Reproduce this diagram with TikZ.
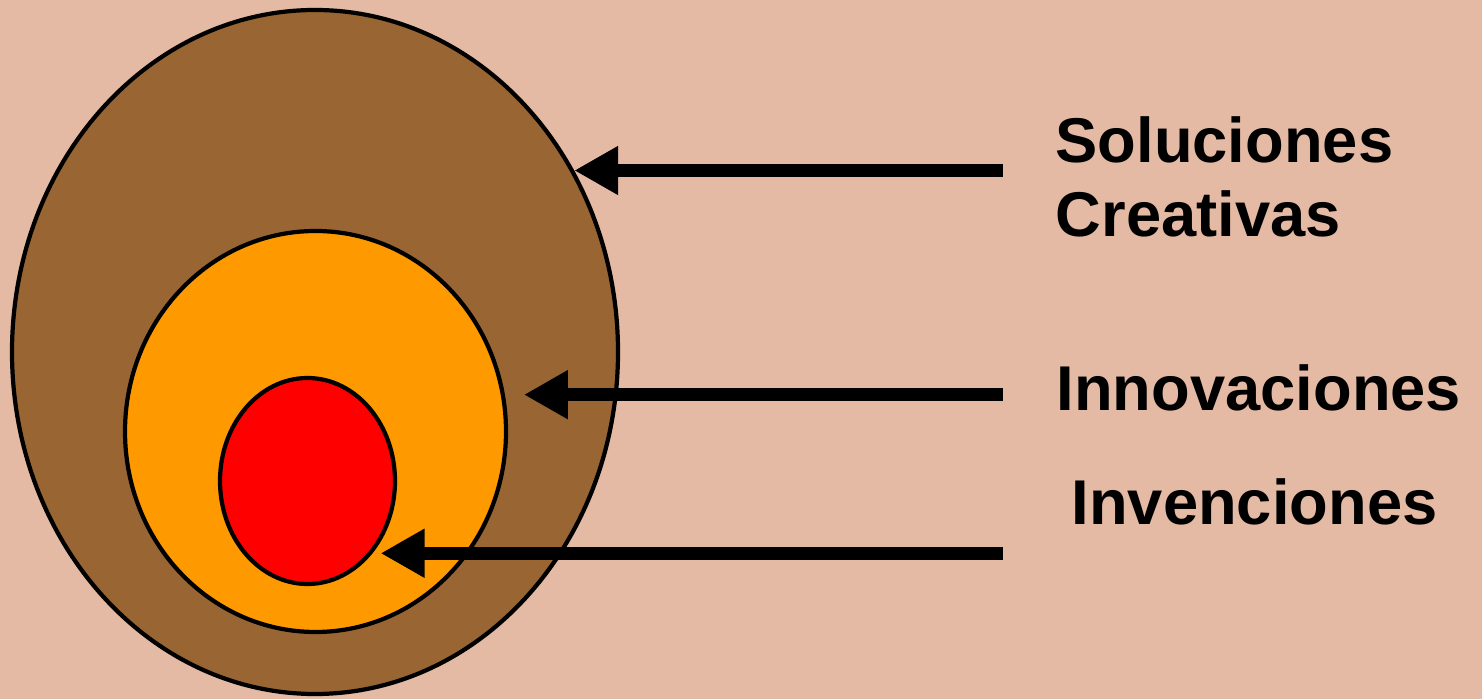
\documentclass[tikz,border=0pt]{standalone}
\usepackage{fontspec}
\setmainfont{Liberation Sans}
\usetikzlibrary{shapes.geometric,arrows.meta}
\definecolor{fondo}{HTML}{E4BAA4}
\definecolor{cafe}{HTML}{996633}
\definecolor{naranja}{HTML}{FF9900}
\definecolor{rojo}{HTML}{FF0000}
\begin{document}
\begin{tikzpicture}[
	capa/.style={ellipse,draw=black,line width=1.2pt,inner sep=0pt},
	flecha/.style={line width=0.13cm,-{Triangle[length=4.4mm,width=4.6mm]}},
	etiqueta/.style={anchor=base west,inner sep=0pt,font=\fontsize{18}{21.3}\selectfont\bfseries,align=left}
	]
	\fill[fondo] (0,0) rectangle (14.82,6.99);
	\useasboundingbox (0,0) rectangle (14.82,6.99);
	%--
	\node[capa,fill=cafe,minimum width=6.06cm,minimum height=6.84cm] (sol) at (3.15,3.47) {};
	\node[capa,fill=naranja,minimum width=3.81cm,minimum height=4.01cm] (inn) at (3.155,2.675) {};
	\node[capa,fill=rojo,minimum width=1.75cm,minimum height=2.06cm] (inv) at (3.075,2.18) {};
	%--
	\coordinate (cola) at (10.03,0);
	\node[etiqueta] (tsol) at (10.55,4.62) {Soluciones\\Creativas};
	\node[etiqueta] (tinn) at (10.56,2.88) {Innovaciones};
	\node[etiqueta] (tinv) at (10.71,1.74) {Invenciones};
	%--
	\draw[flecha] (sol.35.3 -| cola) -- (sol.35.3);
	\draw[flecha,shorten >=0.19cm] (inn.11.8 -| cola) -- (inn.11.8);
	\draw[flecha,shorten >=0.08cm] (inv.-48.3 -| cola) -- (inv.-48.3);
\end{tikzpicture}
\end{document}
